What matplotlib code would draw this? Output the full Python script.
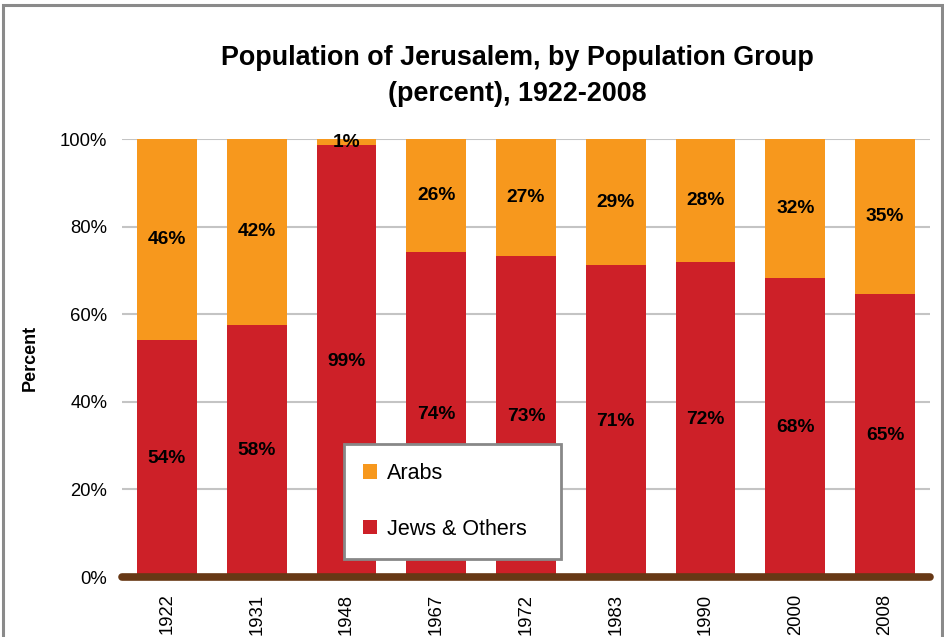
import matplotlib
matplotlib.use("Agg")
import matplotlib.pyplot as plt
from matplotlib.patches import Rectangle, Patch

years = ["1922", "1931", "1948", "1967", "1972", "1983", "1990", "2000", "2008"]
jews = [54.2, 57.6, 98.6, 74.1, 73.4, 71.2, 72.0, 68.3, 64.7]
arabs = [45.8, 42.4, 1.4, 25.9, 26.6, 28.8, 28.0, 31.7, 35.3]
jews_labels = ["54%", "58%", "99%", "74%", "73%", "71%", "72%", "68%", "65%"]
arabs_labels = ["46%", "42%", "1%", "26%", "27%", "29%", "28%", "32%", "35%"]
yticks = [0, 20, 40, 60, 80, 100]
ytick_labels = ["0%", "20%", "40%", "60%", "80%", "100%"]

RED = "#CD2028"
ORANGE = "#F7981D"
BROWN = "#673815"
FONT = ["Liberation Sans", "DejaVu Sans"]
plt.rcParams["font.family"] = FONT

fig = plt.figure(figsize=(9.44, 6.37), dpi=100)
fig.patches.append(Rectangle((3 / 944, -0.1), 939 / 944, 1.1 - 5 / 637, transform=fig.transFigure,
                             fill=False, edgecolor="#8a8a8a", linewidth=2.2, zorder=0))

ax = fig.add_axes([122 / 944, 60 / 637, 808 / 944, 438 / 637])
x = list(range(len(years)))
w = 0.667
ax.bar(x, jews, width=w, color=RED, zorder=2)
ax.bar(x, arabs, width=w, bottom=jews, color=ORANGE, zorder=2)

for i in x:
    ax.text(i, jews[i] / 2, jews_labels[i], ha="center", va="center",
            fontsize=13.8, fontweight="bold", color="black", zorder=4)
    ax.text(i, jews[i] + arabs[i] / 2, arabs_labels[i], ha="center", va="center",
            fontsize=13.8, fontweight="bold", color="black", zorder=4)

ax.set_xlim(-0.5, len(years) - 0.5)
ax.set_ylim(0, 100)
ax.set_yticks(yticks)
ax.set_yticklabels(ytick_labels, fontsize=13.3)
ax.set_xticks(x)
ax.set_xticklabels(years, rotation=90, fontsize=13.3, va="top")
ax.tick_params(axis="both", length=0)
ax.tick_params(axis="y", pad=10.5)
ax.tick_params(axis="x", pad=12)
for s in ax.spines.values():
    s.set_visible(False)
ax.yaxis.grid(True, color="#c4c4c4", linewidth=1.5, zorder=0)
ax.set_axisbelow(True)
ax.plot([-0.5, len(years) - 0.5], [0, 0], color=BROWN, linewidth=5.5,
        solid_capstyle="round", clip_on=False, zorder=5)

ax.set_ylabel("Percent", fontsize=13, fontweight="bold", labelpad=15.5)

fig.text(517 / 944, 1 - 76 / 637, "Population of Jerusalem, by Population Group\n(percent), 1922-2008",
         ha="center", va="center", fontsize=19.4, fontweight="bold", linespacing=1.46)

handles = [Patch(facecolor=ORANGE), Patch(facecolor=RED)]
leg = ax.legend(handles, ["Arabs", "Jews & Others"], loc="lower left",
                bbox_to_anchor=((344 - 122) / 808, (577 - 559) / 438, (561 - 344) / 808, (559 - 443) / 438),
                mode="expand", fontsize=15.5, frameon=True, fancybox=False, framealpha=1,
                handlelength=0.65, handleheight=0.65, handletextpad=0.45,
                labelspacing=1.6, borderpad=0.9, borderaxespad=0)
leg.get_frame().set_edgecolor("#888888")
leg.get_frame().set_linewidth(2)
leg.set_zorder(6)

fig.savefig("out.png", dpi=100)
